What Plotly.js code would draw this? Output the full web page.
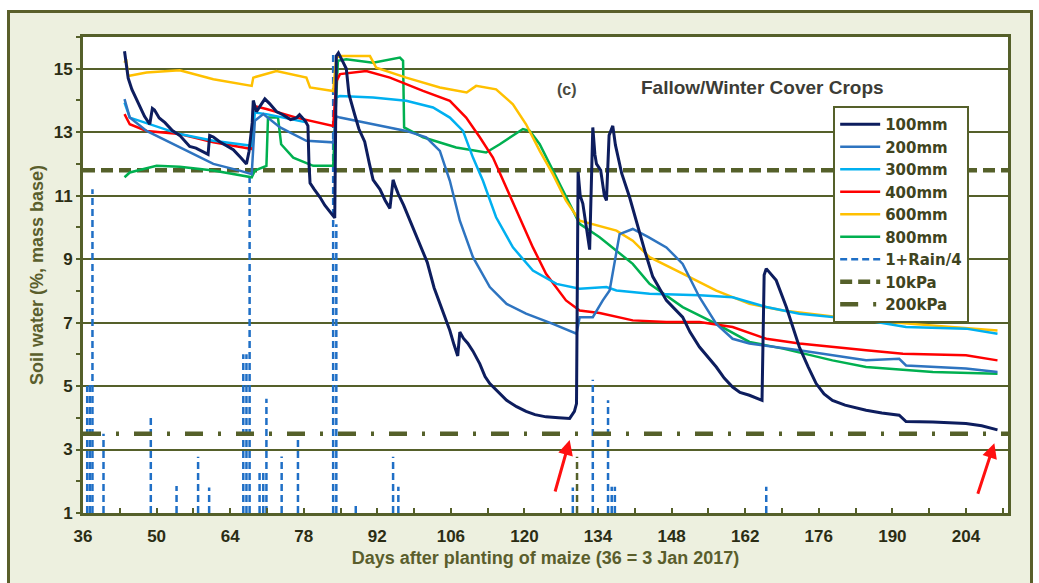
<!DOCTYPE html>
<html><head><meta charset="utf-8">
<script src="https://cdn.plot.ly/plotly-3.0.1.min.js"></script>
<style>
body{margin:0;background:#fff;}
#frame{position:absolute;left:7px;top:10px;width:1020px;height:580px;background:#edf0df;border:3px solid #5a5f2a;}
#chart{position:absolute;left:0;top:0;width:1039px;height:583px;}
</style></head>
<body><div id="frame"></div><div id="chart"></div>
<script>
// ---- data ----
const d100 = [43.9,44.2,44.6,45.3,46.5,47.7,48.7,49.2,49.6,50.5,51.6,53,54.4,55.5,56.3,57.5,59.2,59.8,60.1,60.8,62,63.5,64.6,66,67.1,67.6,68.2,68.4,69,69.6,70.6,71.5,72.8,74,75.5,76.6,77.2,78.3,78.8,79.0,79.2,80,81.1,82,83.3,83.9,84.2,84.6,85.5,86.1,86.6,87.2,87.7,88.5,89.6,90.5,91.2,92.5,93.5,94.4,95,95.4,96,97,98.5,100.1,101.5,102.8,103.9,105,105.8,106.6,107.3,107.7,108.4,109.2,110.2,111.5,112.5,113.4,115,116.6,118.5,120.3,122,124.1,126.5,128.6,129.5,129.9,130.2,130.6,131.1,131.8,132.4,133,133.4,133.7,134.5,135.2,135.6,136.1,136.8,137.3,138.5,140,141.9,143,144.4,147,150.1,151.5,153.3,155,156.5,158,159.6,161,162.8,165.2,165.6,166,167,167.9,169.8,171,172.3,174,175.5,177,178.6,181,185,188,191.3,192.6,197.7,204,207,210];
const v100 = [15.55,15.1,14.7,14.35,13.9,13.5,13.25,13.75,13.7,13.45,13.3,13.05,12.9,12.7,12.55,12.5,12.35,12.3,12.9,12.85,12.7,12.55,12.45,12.2,12.0,12.4,13.3,14.0,13.65,13.8,14.05,13.9,13.65,13.55,13.4,13.45,13.55,13.35,13.2,12.0,11.4,11.2,10.95,10.7,10.45,10.3,15.4,15.5,15.2,15.0,14.2,13.8,13.55,13.1,12.7,12.0,11.5,11.2,10.85,10.6,11.5,11.3,11.05,10.7,10.1,9.5,8.9,8.1,7.6,7.1,6.75,6.3,5.95,6.7,6.5,6.35,6.1,5.7,5.3,5.08,4.8,4.55,4.35,4.2,4.1,4.03,4.0,3.98,4.2,4.45,11.75,11.0,10.75,9.9,9.3,13.15,12.3,12.0,11.8,11.0,10.85,12.9,13.2,12.6,11.7,10.95,9.8,9.2,8.45,7.7,7.17,6.7,6.23,5.9,5.6,5.25,4.97,4.8,4.71,4.55,8.5,8.7,8.5,8.33,7.5,6.9,6.23,5.6,5.08,4.75,4.55,4.4,4.24,4.15,4.08,3.88,3.87,3.82,3.75,3.62];

const d200 = [43.9,44.9,48.1,54.4,60.8,65.8,68.1,68.7,70.3,73.5,78.5,83.6,84.2,84.9,91.2,97.5,101.3,103.9,105.8,107.7,110.2,113.4,116.6,120.3,125.4,129.9,130.5,133,134.9,136.2,138.1,140.6,143.5,147,150.1,153.3,156.5,159.6,162.8,172.3,185,191.3,192.6,204,210];
const v200 = [14.04,13.46,13.04,12.52,12.0,11.79,11.68,13.36,13.57,13.15,12.73,12.68,13.5,13.46,13.25,13.04,12.84,12.41,11.47,10.21,9.06,8.12,7.59,7.28,6.96,6.65,7.17,7.17,7.7,8.01,9.79,9.95,9.7,9.37,8.85,7.8,6.96,6.49,6.34,6.13,5.81,5.86,5.65,5.55,5.44];

const d300 = [43.9,44.9,54.4,60.8,68.1,68.7,70.9,76.6,78.5,null,84.2,84.9,91.2,97.5,102.6,105.8,108.3,110.2,112.1,114.6,117.8,121.6,126.1,130.5,135.6,137.5,143.8,153.3,159.6,166,172.3,185,192.6,204,210];
const v300 = [13.93,13.46,12.94,12.73,12.57,13.62,13.57,13.36,13.31,null,14.1,14.14,14.09,13.99,13.78,13.46,13.04,12.2,11.47,10.32,9.37,8.64,8.22,8.07,8.12,8.01,7.91,7.86,7.8,7.49,7.28,7.07,6.86,6.81,6.65];

const d400 = [43.9,44.9,48.1,54.4,60.8,68.1,68.4,70.9,76.6,83.6,84.2,84.9,89.9,94.4,100.7,105.8,108.9,111.5,114,116.5,119.1,121.6,124.1,127.9,130.5,134.3,140.6,147,153.3,159.6,166,172.3,185,192,204,210];
const v400 = [13.57,13.25,13.04,12.94,12.68,12.47,13.83,13.73,13.46,13.2,14.6,14.83,14.93,14.72,14.3,13.99,13.46,12.84,12.2,11.26,10.32,9.37,8.54,7.7,7.38,7.3,7.07,7.02,7.02,6.86,6.49,6.34,6.13,6.02,5.97,5.81];

const d600 = [43.9,44.2,44.6,48.1,54.4,60.8,68.1,68.4,72.8,78.5,79.2,83.6,84.2,84.9,90.6,91.8,97.5,103.9,109,110.8,114.6,117.8,120.3,122.9,125.4,127.9,130.5,134.3,137.5,140.6,143.8,150.1,156.5,162.8,169.2,185,197.7,210];
const v600 = [15.19,15.3,14.77,14.88,14.95,14.67,14.46,14.72,14.93,14.72,14.41,14.3,15.35,15.4,15.4,15.03,14.72,14.41,14.25,14.46,14.35,13.88,13.25,12.41,11.68,10.84,10.21,10.05,9.9,9.58,9.06,8.54,8.01,7.59,7.38,7.07,6.91,6.75];

const d800 = [43.9,44.9,50,54.4,60.8,68.1,68.7,70.9,71.2,73.1,73.7,76,79.8,83.6,84.5,86.1,91.2,96.3,96.9,97.1,100.7,107,112.7,115.3,119.7,121,122.9,125.4,127.9,130.5,134.3,137.5,140.6,143.8,150.1,156.5,162.8,169.2,178.6,185,197.7,210];
const v800 = [11.58,11.73,11.94,11.91,11.79,11.58,11.79,11.94,13.46,13.46,12.62,12.2,11.94,11.94,15.25,15.3,15.19,15.35,15.25,13.15,12.84,12.52,12.36,12.62,13.1,13.04,12.62,11.79,10.95,10.11,9.69,9.27,8.85,8.22,7.49,6.96,6.39,6.18,5.81,5.6,5.44,5.39];

const rainDay = [36.8,37.3,37.8,39.9,48.9,53.8,57.9,60.0,66.5,67.1,67.7,69.6,70.3,70.9,73.8,76.9,83.6,84.2,87.9,95.0,96.0,129.2,133.0,135.9,136.6,137.2,166.0];
const rainVal = [5.0,5.1,11.2,3.5,4.05,1.85,2.77,1.8,6.0,6.0,11.6,2.3,2.35,4.6,2.78,3.5,15.5,10.1,1.25,2.77,1.83,1.8,5.2,4.55,1.83,1.83,1.83];

const markDay = [130.0];
const markVal = [2.77];

const kPa10 = 11.8;
const kPa200 = 3.5;
const xRange = [36, 212];

// ---- build ----
const olive = '#55602a';
function bars(days, vals){
  const x=[], y=[];
  days.forEach((d,i)=>{ x.push(d,d,null); y.push(1,vals[i],null); });
  return {x,y};
}
const rb = bars(rainDay, rainVal);
const mb = bars(markDay, markVal);

const traces = [
  {x:rb.x, y:rb.y, name:'1+Rain/4', mode:'lines', legendrank:7, line:{color:'#1f6fc6', width:2.5, dash:'7px,4px'}},
  {x:mb.x, y:mb.y, mode:'lines', showlegend:false, line:{color:olive, width:2.5, dash:'7px,4px'}},
  {x:xRange, y:[kPa10,kPa10], name:'10kPa', mode:'lines', legendrank:8, line:{color:olive, width:4.5, dash:'12px,6px'}},
  {x:xRange, y:[kPa200,kPa200], name:'200kPa', mode:'lines', legendrank:9, line:{color:olive, width:4.5, dash:'18px,15px,3px,15px'}},
  {x:d800, y:v800, name:'800mm', mode:'lines', legendrank:6, line:{color:'#00b050', width:2.5}},
  {x:d600, y:v600, name:'600mm', mode:'lines', legendrank:5, line:{color:'#ffc000', width:2.5}},
  {x:d400, y:v400, name:'400mm', mode:'lines', legendrank:4, line:{color:'#ff0000', width:2.5}},
  {x:d300, y:v300, name:'300mm', mode:'lines', legendrank:3, line:{color:'#00b0f0', width:2.5}},
  {x:d200, y:v200, name:'200mm', mode:'lines', legendrank:2, line:{color:'#2e74c0', width:2.5}},
  {x:d100, y:v100, name:'100mm', mode:'lines', legendrank:1, line:{color:'#0d1d5e', width:3}}
];

const arial = 'Liberation Sans, Arial, sans-serif';
const layout = {
  width:1039, height:583,
  margin:{l:83, r:31, t:37, b:70},
  paper_bgcolor:'rgba(0,0,0,0)', plot_bgcolor:'#ffffff',
  font:{family:arial, color:'#2f3116'},
  showlegend:true,
  legend:{x:0.811, y:0.855, xanchor:'left', yanchor:'top', bgcolor:'#ffffff',
          bordercolor:olive, borderwidth:2, itemwidth:40,
          font:{size:15, color:'#3f4420', family:'DejaVu Sans, sans-serif', weight:'bold'}},
  xaxis:{range:xRange, tick0:36, dtick:14, ticks:'inside', ticklen:5, tickwidth:2, tickcolor:olive,
         minor:{dtick:7, tick0:36, ticks:'inside', ticklen:5, tickwidth:2, tickcolor:olive},
         showgrid:false, zeroline:false, showline:true, linecolor:olive, linewidth:3, mirror:true,
         ticklabelstandoff:6,
         tickfont:{size:17, weight:'bold', color:'#2b2d14'},
         title:{text:'Days after planting of maize (36 = 3 Jan 2017)', standoff:6,
                font:{size:18, weight:'bold', color:'#5a5e2c'}}},
  yaxis:{range:[1,16], tick0:1, dtick:2, ticks:'outside', ticklen:4, tickwidth:2, tickcolor:olive,
         minor:{dtick:1, tick0:1, ticks:'outside', ticklen:4, tickwidth:2, tickcolor:olive, showgrid:false},
         showgrid:true, gridcolor:olive, gridwidth:2, zeroline:false, showline:true, linecolor:olive, linewidth:3, mirror:true,
         tickfont:{size:17, weight:'bold', color:'#2b2d14'},
         title:{text:'Soil water (%, mass base)', standoff:6,
                font:{size:18, weight:'bold', color:'#5a5e2c'}}},
  annotations:[
    {x:128, y:14.33, xref:'x', yref:'y', text:'(c)', showarrow:false,
     font:{size:16, weight:'bold', color:'#4a4a40'}},
    {x:165.3, y:14.4, xref:'x', yref:'y', text:'Fallow/Winter Cover Crops', showarrow:false,
     font:{size:19, weight:'bold', color:'#3c3c36'}},
    {x:128.6, y:3.3, xref:'x', yref:'y', text:'', showarrow:true, ax:-15, ay:53,
     arrowcolor:'#ff1010', arrowwidth:3, arrowhead:2, arrowsize:1},
    {x:209.4, y:3.2, xref:'x', yref:'y', text:'', showarrow:true, ax:-17, ay:52,
     arrowcolor:'#ff1010', arrowwidth:3, arrowhead:2, arrowsize:1}
  ]
};
Plotly.newPlot('chart', traces, layout, {displayModeBar:false, staticPlot:true});
</script></body></html>
